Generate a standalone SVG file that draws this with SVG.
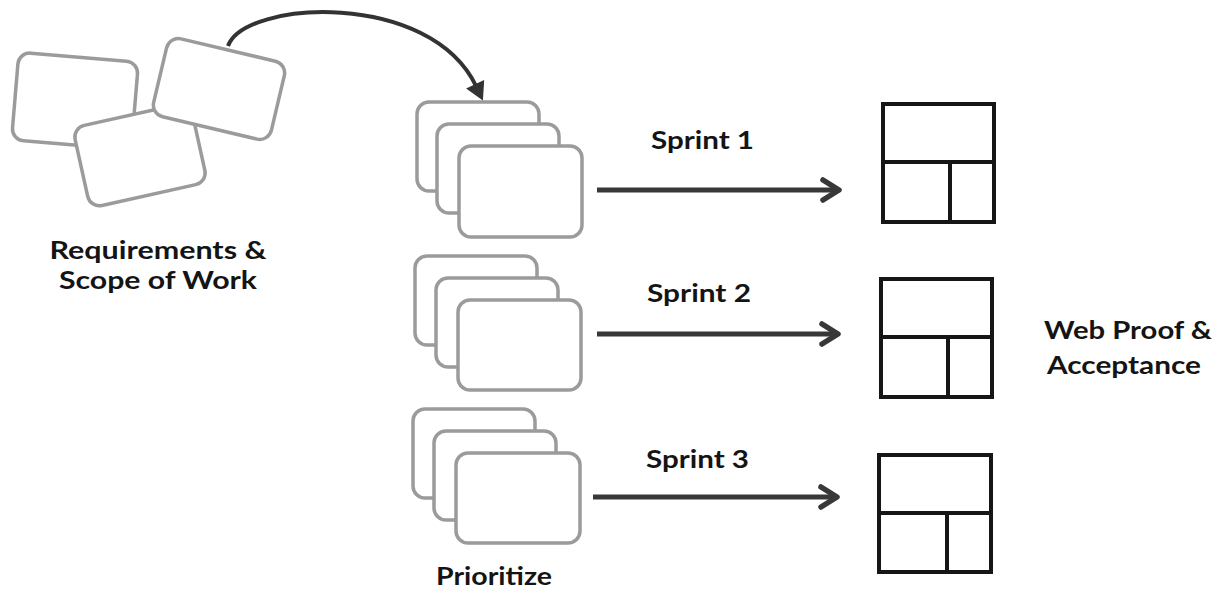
<svg xmlns="http://www.w3.org/2000/svg" width="1222" height="593" viewBox="0 0 1222 593">
  <style>
    .card { fill: #ffffff; stroke: #9b9b9b; stroke-width: 3.5; }
    .page { fill: #ffffff; stroke: #161616; stroke-width: 4; }
    .page-line { stroke: #161616; stroke-width: 4; fill: none; }
    .flow { stroke: #383838; stroke-width: 5; fill: none; }
    .label { font-family: Lato, "Open Sans", "Liberation Sans", sans-serif; font-size: 25px; font-weight: bold; fill: #141414; }
  </style>
  <defs>
    <marker id="head-solid" markerUnits="userSpaceOnUse" markerWidth="24" markerHeight="24" viewBox="0 0 24 24" refX="4" refY="12" orient="auto">
      <path d="M 2 2 L 20 12 L 2 22 Z" fill="#333333"/>
    </marker>
    <marker id="head-open" markerUnits="userSpaceOnUse" markerWidth="28" markerHeight="28" viewBox="0 0 28 28" refX="21" refY="14" orient="auto">
      <path d="M 5 4 L 21 14 L 5 24" fill="none" stroke="#383838" stroke-width="5.5" stroke-linecap="round" stroke-linejoin="round"/>
    </marker>
  </defs>
  <rect width="1222" height="593" fill="#ffffff"/>

  <!-- Loose requirement cards -->
  <g id="requirements">
    <rect class="card" x="-60" y="-44" width="120" height="88" rx="12" transform="translate(75 101) rotate(4.8)"/>
    <rect class="card" x="-60" y="-41" width="120" height="82" rx="12" transform="translate(140 155) rotate(-12.5)"/>
    <rect class="card" x="-60.5" y="-40" width="121" height="80" rx="12" transform="translate(219 89) rotate(13.3)"/>
    <text class="label" x="158" y="259" text-anchor="middle" textLength="217" lengthAdjust="spacingAndGlyphs">Requirements &amp;</text>
    <text class="label" x="158" y="289" text-anchor="middle" textLength="198" lengthAdjust="spacingAndGlyphs">Scope of Work</text>
  </g>

  <!-- Prioritized stacks -->
  <g id="stack-1">
    <rect class="card" x="417" y="102" width="122" height="89" rx="12"/>
    <rect class="card" x="437" y="124" width="122" height="89" rx="12"/>
    <rect class="card" x="459" y="146" width="123" height="91" rx="12"/>
  </g>
  <g id="stack-2">
    <rect class="card" x="415" y="256" width="122" height="89" rx="12"/>
    <rect class="card" x="436" y="278" width="122" height="89" rx="12"/>
    <rect class="card" x="458" y="300" width="123" height="90" rx="12"/>
  </g>
  <g id="stack-3">
    <rect class="card" x="413" y="409" width="122" height="89" rx="12"/>
    <rect class="card" x="434" y="431" width="122" height="89" rx="12"/>
    <rect class="card" x="456" y="453" width="124" height="90" rx="12"/>
    <text class="label" x="436" y="585" textLength="116" lengthAdjust="spacingAndGlyphs">Prioritize</text>
  </g>

  <!-- Web page wireframes -->
  <g id="page-1">
    <rect class="page" x="883" y="104" width="111" height="118"/>
    <path class="page-line" d="M 883 162 H 994 M 950 162 V 222"/>
  </g>
  <g id="page-2">
    <rect class="page" x="881" y="279" width="111" height="118"/>
    <path class="page-line" d="M 881 337 H 992 M 948 337 V 397"/>
  </g>
  <g id="page-3">
    <rect class="page" x="879" y="455" width="112" height="117"/>
    <path class="page-line" d="M 879 513 H 991 M 947 513 V 572"/>
  </g>
  <g id="acceptance">
    <text class="label" x="1128" y="339" text-anchor="middle" textLength="168" lengthAdjust="spacingAndGlyphs">Web Proof &amp;</text>
    <text class="label" x="1124" y="374" text-anchor="middle" textLength="154" lengthAdjust="spacingAndGlyphs">Acceptance</text>
  </g>

  <!-- Connectors -->
  <g id="connectors">
    <path class="flow" style="stroke:#333333;stroke-width:4" d="M 228 46 C 245 0, 430 -10, 476 86" marker-end="url(#head-solid)"/>
    <path class="flow" d="M 597 190 H 839" marker-end="url(#head-open)"/>
    <path class="flow" d="M 597 334 H 838" marker-end="url(#head-open)"/>
    <path class="flow" d="M 593 497 H 837" marker-end="url(#head-open)"/>
    <text class="label" x="651" y="149" textLength="103" lengthAdjust="spacingAndGlyphs">Sprint 1</text>
    <text class="label" x="647" y="302" textLength="104" lengthAdjust="spacingAndGlyphs">Sprint 2</text>
    <text class="label" x="646" y="468" textLength="103" lengthAdjust="spacingAndGlyphs">Sprint 3</text>
  </g>
</svg>
